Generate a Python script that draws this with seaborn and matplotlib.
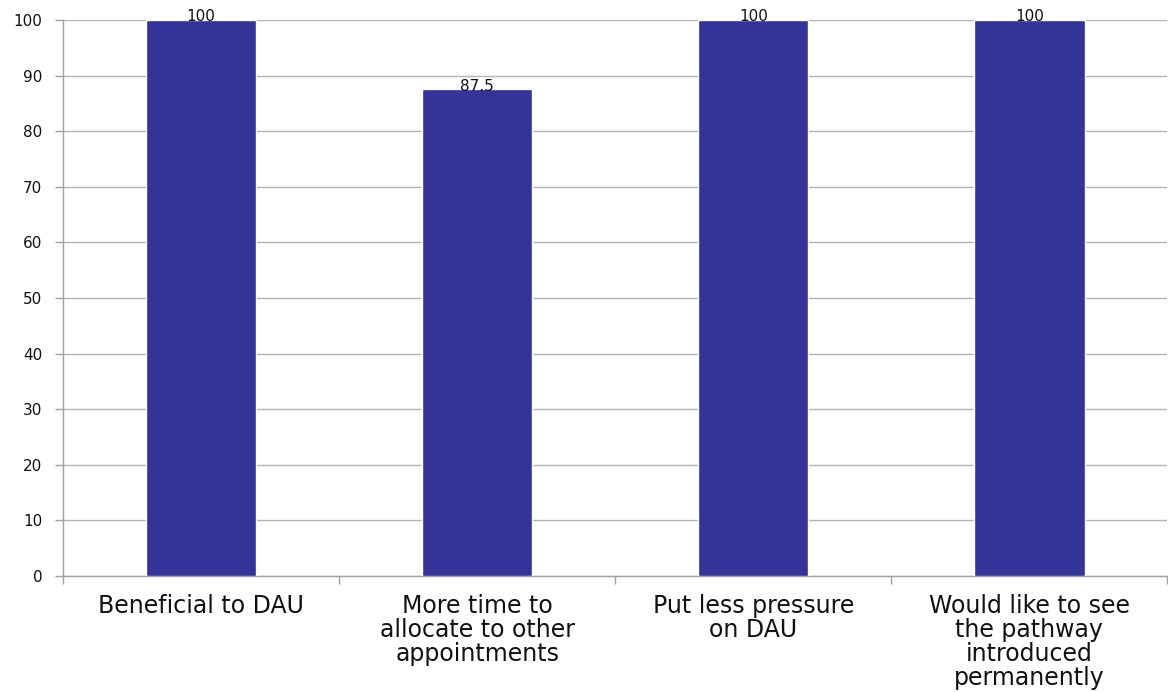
import matplotlib
matplotlib.use("Agg")
import matplotlib.pyplot as plt
import seaborn as sns
import pandas as pd

categories = [
    "Beneficial to DAU",
    "More time to\nallocate to other\nappointments",
    "Put less pressure\non DAU",
    "Would like to see\nthe pathway\nintroduced\npermanently",
]
percentages = [100, 87.5, 100, 100]
y_ticks = [0, 10, 20, 30, 40, 50, 60, 70, 80, 90, 100]

sns.set_theme(style="white")
plt.rcParams["font.family"] = ["DejaVu Sans"]

df = pd.DataFrame({"category": categories, "pct": percentages})

fig = plt.figure(figsize=(11.68, 6.92), dpi=100)
ax = fig.add_axes([63 / 1168, 1 - 576 / 692, 1 - 63 / 1168 - 0.0005, (576 - 20) / 692])

sns.barplot(data=df, x="category", y="pct", color="#333399", width=0.4,
            saturation=1, ax=ax, zorder=3)

ax.set_xlim(-0.5, len(categories) - 0.5)
ax.set_ylim(0, 100)
ax.set_yticks(y_ticks)
ax.set_xlabel("")
ax.set_ylabel("")

# Horizontal gridlines
ax.yaxis.grid(True, color="#b3b3b3", linewidth=1.0, zorder=0)
ax.xaxis.grid(False)
ax.set_axisbelow(True)

# Spines
for side in ["top", "right"]:
    ax.spines[side].set_visible(False)
for side in ["left", "bottom"]:
    ax.spines[side].set_color("#a0a0a0")
    ax.spines[side].set_linewidth(1.0)

# Y ticks
ax.tick_params(axis="y", which="major", left=True, length=6, width=1,
               color="#a0a0a0", pad=9, labelsize=11, labelcolor="#111111")

# X labels at category centres, tick marks between categories
ax.tick_params(axis="x", which="major", bottom=False, length=0, pad=13,
               labelsize=17, labelcolor="#111111")
ax.set_xticks(range(len(categories)))
ax.set_xticklabels(categories, linespacing=1.0)
ax.set_xticks([i + 0.5 for i in range(-1, len(categories))], minor=True)
ax.tick_params(axis="x", which="minor", bottom=True, length=6, width=1,
               color="#a0a0a0")

# Value labels on top of bars
for i, v in enumerate(percentages):
    label = f"{v:g}"
    ax.annotate(label, xy=(i, v), xytext=(0, -1), textcoords="offset points",
                ha="center", va="baseline", fontsize=11, color="#111111",
                annotation_clip=False, zorder=5)

fig.savefig("out.png", dpi=100)
